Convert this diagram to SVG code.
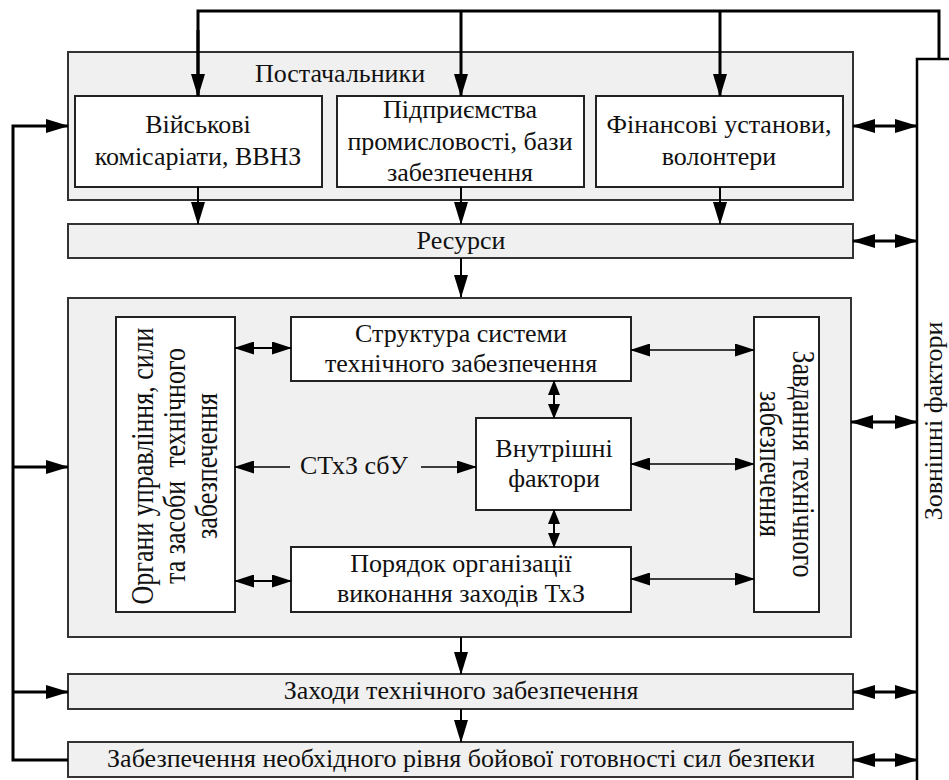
<svg xmlns="http://www.w3.org/2000/svg" width="949" height="780" viewBox="0 0 949 780">
<style>
text{font-family:"Liberation Serif","Times New Roman",serif;font-size:26px;fill:#111;text-anchor:middle}
.g{fill:#f0f0f0;stroke:#333;stroke-width:2}
.w{fill:#fff;stroke:#222;stroke-width:2}
.t{fill:none;stroke:#000;stroke-width:3}
.m{fill:none;stroke:#000;stroke-width:2}
.s{fill:none;stroke:#000;stroke-width:1.5}
</style>
<defs>
<marker id="a" markerUnits="userSpaceOnUse" markerWidth="23" markerHeight="14" refX="22" refY="7" orient="auto-start-reverse"><path d="M0,0 L23,7 L0,14 z" fill="#000"/></marker>
<marker id="b" markerUnits="userSpaceOnUse" markerWidth="20" markerHeight="13" refX="19" refY="6.5" orient="auto-start-reverse"><path d="M0,0 L20,6.5 L0,13 z" fill="#000"/></marker>
<marker id="c" markerUnits="userSpaceOnUse" markerWidth="15" markerHeight="12" refX="14" refY="6" orient="auto-start-reverse"><path d="M0,0 L15,6 L0,12 z" fill="#000"/></marker>
</defs>

<g id="postachalnyky">
<rect class="g" x="68" y="52" width="785" height="148"/>
<text x="340" y="82">Постачальники</text>
</g>
<g id="viiskovi">
<rect class="w" x="75" y="96" width="247" height="91"/>
<text x="198" y="133">Військові</text>
<text x="198" y="165">комісаріати, ВВНЗ</text>
</g>
<g id="pidpryiemstva">
<rect class="w" x="337" y="96" width="247" height="91"/>
<text x="460" y="118">Підприємства</text>
<text x="460" y="150">промисловості, бази</text>
<text x="460" y="181">забезпечення</text>
</g>
<g id="finansovi">
<rect class="w" x="596" y="96" width="247" height="91"/>
<text x="719" y="133">Фінансові установи,</text>
<text x="719" y="165">волонтери</text>
</g>
<g id="resursy">
<rect class="g" x="68" y="224" width="785" height="34"/>
<text x="461" y="249">Ресурси</text>
</g>
<g id="stxz">
<rect class="g" x="68" y="298" width="783" height="339"/>
<text x="354" y="474">СТхЗ сбУ</text>
</g>
<g id="orhany">
<rect class="w" x="116" y="317" width="119" height="295"/>
<g transform="translate(185,466) rotate(-90) scale(1,1.25)">
<text x="0" y="-25.6">Органи управління, сили</text>
<text x="0" y="0" xml:space="preserve">та засоби  технічного</text>
<text x="0" y="25.6">забезпечення</text>
</g>
</g>
<g id="struktura">
<rect class="w" x="291" y="317" width="340" height="64"/>
<text x="461" y="342">Структура системи</text>
<text x="461" y="372">технічного забезпечення</text>
</g>
<g id="vnutrishni">
<rect class="w" x="476" y="418" width="155" height="92"/>
<text x="554" y="457">Внутрішні</text>
<text x="554" y="487">фактори</text>
</g>
<g id="poriadok">
<rect class="w" x="291" y="547" width="340" height="65"/>
<text x="461" y="572">Порядок організації</text>
<text x="461" y="602">виконання заходів ТхЗ</text>
</g>
<g id="zavdannia">
<rect class="w" x="754" y="317" width="65" height="295"/>
<g transform="translate(776,464) rotate(90) scale(1,1.25)">
<text x="0" y="-13.6">Завдання технічного</text>
<text x="0" y="12.8">забезпечення</text>
</g>
</g>
<g id="zakhody">
<rect class="g" x="68" y="674" width="785" height="35"/>
<text x="461" y="699">Заходи технічного забезпечення</text>
</g>
<g id="gotovnist">
<rect class="g" x="68" y="742" width="785" height="35"/>
<text x="461" y="767">Забезпечення необхідного рівня бойової готовності сил безпеки</text>
</g>
<g id="zovnishni">
<path d="M949,59 H917 V790" fill="#fff" stroke="#000" stroke-width="2.5"/>
<text transform="translate(942,421) rotate(-90)" x="0" y="0">Зовнішні фактори</text>
</g>

<g id="connectors">
<path class="t" d="M198,96 V11 H939 V59"/>
<path class="t" d="M198,30 V96" marker-end="url(#a)"/>
<path class="t" d="M461,11 V96" marker-end="url(#a)"/>
<path class="t" d="M720,11 V96" marker-end="url(#a)"/>
<path class="m" d="M198,187 V224" marker-end="url(#a)"/>
<path class="m" d="M461,187 V224" marker-end="url(#a)"/>
<path class="m" d="M720,187 V224" marker-end="url(#a)"/>
<path class="m" d="M461,258 V297" marker-end="url(#a)"/>
<path class="m" d="M461,637 V674" marker-end="url(#a)"/>
<path class="m" d="M461,709 V742" marker-end="url(#a)"/>
<path class="t" d="M68,760 H13 V126 H68" marker-end="url(#a)"/>
<path class="t" d="M13,467 H68" marker-end="url(#a)"/>
<path class="t" d="M13,692 H68" marker-end="url(#a)"/>
<path class="t" d="M853,126 H917" marker-start="url(#a)" marker-end="url(#a)"/>
<path class="t" d="M853,241 H917" marker-start="url(#a)" marker-end="url(#a)"/>
<path class="t" d="M851,422 H917" marker-start="url(#a)" marker-end="url(#a)"/>
<path class="t" d="M853,692 H917" marker-start="url(#a)" marker-end="url(#a)"/>
<path class="t" d="M853,760 H917" marker-start="url(#a)" marker-end="url(#a)"/>
<path class="m" d="M235,348 H291" marker-start="url(#b)" marker-end="url(#b)"/>
<path class="m" d="M235,581 H291" marker-start="url(#b)" marker-end="url(#b)"/>
<path class="s" d="M631,350 H754" marker-start="url(#b)" marker-end="url(#b)"/>
<path class="s" d="M631,464 H754" marker-start="url(#b)" marker-end="url(#b)"/>
<path class="s" d="M631,579 H754" marker-start="url(#b)" marker-end="url(#b)"/>
<path class="m" d="M554,381 V418" marker-start="url(#c)" marker-end="url(#c)"/>
<path class="m" d="M554,510 V547" marker-start="url(#c)" marker-end="url(#c)"/>
<path class="s" d="M290,467 H235" marker-end="url(#b)"/>
<path class="s" d="M421,467 H476" marker-end="url(#b)"/>
</g>
</svg>
